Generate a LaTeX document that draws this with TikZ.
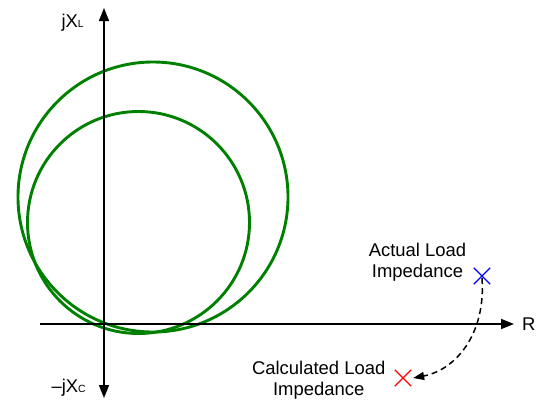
\documentclass[tikz,border=0pt]{standalone}
\usepackage{fontspec}
\setmainfont{Liberation Sans}
\usetikzlibrary{arrows.meta,shapes.misc}
\definecolor{dkgreen}{RGB}{0,128,0}
\newcommand{\mysub}[1]{\raisebox{-0.5bp}{\fontsize{10.5}{10.5}\selectfont #1}}
\begin{document}
\begin{tikzpicture}[x=1bp,y=-1bp,
  axis/.style={line width=1.6bp, {Triangle[length=13bp,width=10bp]}-{Triangle[length=13bp,width=10bp]}},
  halfaxis/.style={line width=1.6bp, -{Triangle[length=13bp,width=10bp]}},
  circ/.style={draw=dkgreen, line width=2.9bp},
  lbl/.style={font=\fontsize{18.5}{21}\selectfont, align=center, inner sep=0pt},
  xmark/.style={cross out, minimum size=15bp, inner sep=0pt, line width=1.3bp},
  dashcurve/.style={line width=1.5bp, dash pattern=on 6bp off 4bp, -{Triangle[length=11bp,width=8bp]}}]
\useasboundingbox (0,0) rectangle (537,399);
% circles
\draw[circ] (153,197) circle[radius=135bp];
\draw[circ] (138.5,222.5) circle[radius=111bp];
% axes
\coordinate (ytop) at (104,8);
\coordinate (ybot) at (104,398);
\coordinate (xl) at (40,324);
\coordinate (xr) at (514,324);
\draw[axis] (ybot) -- (ytop);
\draw[halfaxis] (xl) -- (xr);
% axis labels
\node[lbl, anchor=base east] (jxl) at (84,27) {jX\mysub{L}};
\node[lbl, anchor=base east] (jxc) at (86,392) {–jX\mysub{C}};
\node[lbl, anchor=base west] (rl) at (522,330) {R};
% markers
\node[xmark, draw=blue] (act) at (482,276) {};
\node[xmark, draw=red] (calc) at (403,378) {};
\node[lbl] (actl) at (417.5,262) {Actual Load\\Impedance};
\node[lbl] (calcl) at (318.7,380) {Calculated Load\\Impedance};
\draw[dashcurve] ([yshift=6bp]act.south) .. controls (486,335) and (455,370) .. ([xshift=2bp]calc.east);
\end{tikzpicture}
\end{document}
